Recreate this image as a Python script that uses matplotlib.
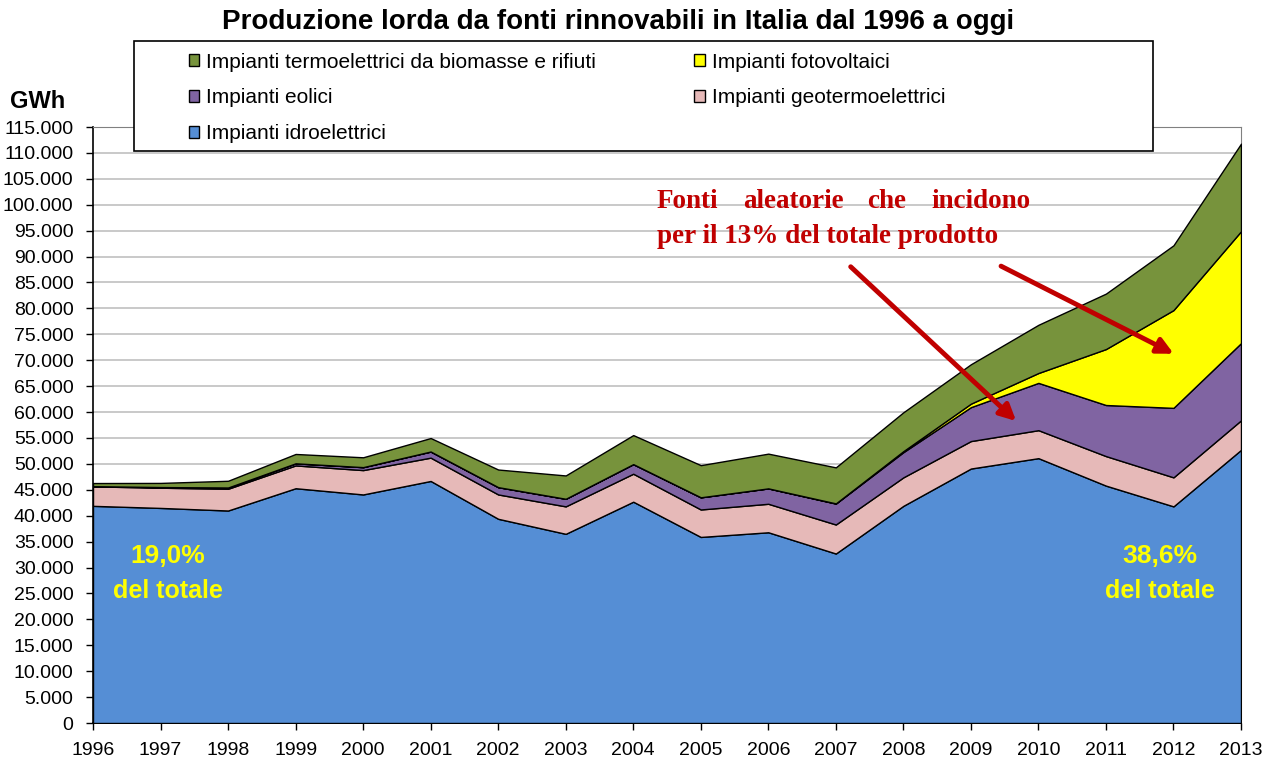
import numpy as np
import matplotlib.pyplot as plt
from matplotlib.patches import Rectangle
from matplotlib.ticker import FuncFormatter, MultipleLocator

# data, GWh
anni = list(range(1996, 2014))
idro = [41900, 41500, 41000, 45300, 44100, 46700, 39400, 36500, 42700,
        35900, 36800, 32700, 41900, 49100, 51100, 45800, 41800, 52700]
geotermico = [3760, 3900, 4200, 4400, 4700, 4500, 4700, 5300, 5400,
              5300, 5500, 5600, 5500, 5300, 5400, 5700, 5600, 5700]
eolico = [33, 118, 232, 403, 563, 1179, 1404, 1458, 1847,
          2344, 2971, 4034, 4861, 6543, 9126, 9856, 13407, 14897]
fotovoltaico = [6, 6, 6, 6, 6, 5, 4, 5, 4,
                4, 2, 39, 193, 676, 1906, 10796, 18862, 21589]
biomasse = [600, 800, 1300, 1800, 1900, 2600, 3400, 4500, 5600,
            6200, 6700, 6950, 7500, 7600, 9300, 10700, 12500, 16900]

etichette = ["Impianti idroelettrici", "Impianti geotermoelettrici",
             "Impianti eolici", "Impianti fotovoltaici",
             "Impianti termoelettrici da biomasse e rifiuti"]
colori = ["#558ed5", "#e6b9b8", "#8064a2", "#ffff00", "#77933c"]

plt.rcParams['font.family'] = ['Liberation Sans', 'DejaVu Sans']

fig = plt.figure(figsize=(12.64, 7.63), dpi=100)
ax = fig.add_axes([93 / 1264, 1 - 723 / 763, (1241 - 93) / 1264, (723 - 127) / 763])

polys = ax.stackplot(anni, idro, geotermico, eolico, fotovoltaico, biomasse,
                     colors=colori, edgecolor='black', linewidth=1, zorder=3)

ax.set_xlim(1996, 2013)
ax.set_ylim(0, 115000)
ax.yaxis.set_major_locator(MultipleLocator(5000))
ax.yaxis.set_major_formatter(FuncFormatter(lambda v, p: f"{int(v):,}".replace(",", ".")))
ax.set_xticks(anni)
ax.tick_params(axis='both', labelsize=14, direction='out', length=5, width=1)
ax.tick_params(axis='x', pad=9)
ax.tick_params(axis='y', pad=9)
ax.grid(axis='y', color='#c0c0c0', linewidth=1.2, zorder=0)
ax.set_axisbelow(True)
for s in ['top', 'right']:
    ax.spines[s].set_color('#808080')
ax.spines['left'].set_linewidth(1.2)
ax.spines['bottom'].set_linewidth(1.2)

# title and unit
fig.text(618 / 1264, 1 - 22 / 763, "Produzione lorda da fonti rinnovabili in Italia dal 1996 a oggi",
         ha='center', va='center', fontsize=20, fontweight='bold')
fig.text(10 / 1264, 1 - 101 / 763, "GWh", ha='left', va='center', fontsize=17, fontweight='bold')

# legend with its own box
fig.patches.append(Rectangle((134 / 1264, 1 - 151 / 763), (1153 - 134) / 1264, (151 - 41) / 763,
                             transform=fig.transFigure, facecolor='white', edgecolor='black',
                             linewidth=1.2, zorder=5))
ordine = [4, 2, 0, 3, 1]
leg = fig.legend([polys[i] for i in ordine], [etichette[i] for i in ordine],
                 loc='upper left', bbox_to_anchor=(170 / 1264, 1 - 34 / 763),
                 ncol=2, frameon=False, fontsize=15, handlelength=0.5, handleheight=0.5,
                 handletextpad=0.35, labelspacing=0.8, columnspacing=4.7)
for h in leg.legend_handles:
    h.set_linewidth(1)
leg.set_zorder(6)

# percent labels
giallo = dict(color='#ffff00', fontweight='bold', ha='center', va='center', zorder=6)
ax.text(1997.11, 32200, "19,0%", fontsize=19, **giallo)
ax.text(1997.11, 25500, "del totale", fontsize=18, **giallo)
ax.text(2011.8, 32200, "38,6%", fontsize=19, **giallo)
ax.text(2011.8, 25500, "del totale", fontsize=18, **giallo)

# red note
rosso = '#c00000'
nota = dict(color=rosso, fontsize=19.5, fontweight='bold', family='Liberation Serif',
            ha='left', va='center', zorder=6)
for parola, xp in [("Fonti", 657), ("aleatorie", 743), ("che", 867), ("incidono", 931)]:
    fig.text(xp / 1264, 1 - 201 / 763, parola, **nota)
fig.text(657 / 1264, 1 - 236 / 763, "per il 13% del totale prodotto", **nota)

freccia = dict(arrowstyle='-|>', color=rosso, lw=3.5, mutation_scale=24)
ax.annotate("", xy=(2009.70, 57900), xytext=(2007.19, 88400), arrowprops=freccia, zorder=6)
ax.annotate("", xy=(2012.04, 71000), xytext=(2009.41, 88400), arrowprops=freccia, zorder=6)

fig.savefig("out.png", dpi=100)
